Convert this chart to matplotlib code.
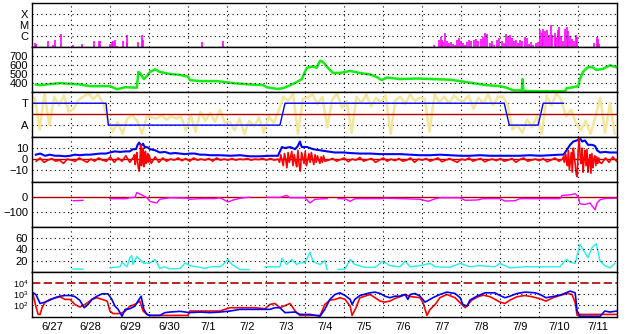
import matplotlib
matplotlib.use("Agg")
from matplotlib import pyplot as plt
from matplotlib.ticker import NullLocator
import numpy as np

plt.rcParams['font.family'] = ['Liberation Sans', 'DejaVu Sans']
plt.rcParams['font.size'] = 8
plt.rcParams['mathtext.default'] = 'regular'

# time axis: days since 6/27 00:00
days = ['6/27', '6/28', '6/29', '6/30', '7/1', '7/2', '7/3', '7/4', '7/5',
        '7/6', '7/7', '7/8', '7/9', '7/10', '7/11']

# X-ray flares (W/m2)
xray_t = [0.07, 0.09, 0.41, 0.54, 0.58, 0.74, 1.04, 1.27, 1.58, 1.70, 1.73, 1.99,
          2.04, 2.07, 2.12, 2.17, 2.33, 2.42, 2.44, 2.71, 2.81, 2.84, 4.34, 4.90,
          10.30, 10.44, 10.47, 10.50, 10.53, 10.58, 10.63, 10.68, 10.74, 10.79,
          10.84, 10.89, 10.94, 11.00, 11.04, 11.09, 11.14, 11.20, 11.25, 11.32,
          11.38, 11.43, 11.51, 11.56, 11.62, 11.67, 11.74, 11.79, 11.84, 11.91,
          11.97, 12.04, 12.09, 12.15, 12.20, 12.25, 12.30, 12.35, 12.40, 12.45,
          12.50, 12.56, 12.63, 12.69, 12.74, 12.79, 12.84, 12.92, 12.97, 13.02,
          13.06, 13.10, 13.15, 13.20, 13.25, 13.29, 13.33, 13.39, 13.43, 13.47,
          13.51, 13.56, 13.61, 13.66, 13.70, 13.74, 13.79, 13.84, 13.90, 13.93,
          13.97, 14.40, 14.47, 14.51, 14.54]
xray_f = [2.3e-7, 1.9e-7, 3.4e-7, 1.5e-7, 4.2e-7, 1.45e-6, 1.5e-7, 1.85e-7, 3.4e-7,
          3.4e-7, 3.4e-7, 1.85e-7, 2.8e-7, 3.4e-7, 4.2e-7, 1.3e-7, 3.4e-7, 1.2e-6,
          2.3e-7, 2.8e-7, 1.2e-6, 4.2e-7, 3.0e-7, 3.4e-7,
          1.5e-7, 5e-7, 7.8e-7, 4.2e-7, 3e-7, 2.1e-6, 3.4e-7, 2.5e-7, 3e-7, 2e-7,
          1.6e-7, 4.2e-7, 6.4e-7, 3.4e-7, 2.3e-7, 1.6e-7, 3e-7, 5e-7, 3.4e-7, 4.2e-7,
          6e-7, 3.4e-7, 5.5e-7, 7.8e-7, 2e-6, 1.6e-6, 2.5e-7, 3.4e-7, 1.8e-7, 5e-7,
          6.4e-7, 3.4e-7, 2.3e-7, 1.45e-6, 9.6e-7, 1.3e-6, 6.4e-7, 3.4e-7, 5e-7, 2.3e-7,
          4.2e-7, 3.4e-7, 7.8e-7, 6.4e-7, 2e-7, 2.8e-7, 1.8e-7, 2.3e-7, 2.8e-7, 3.3e-6,
          1.8e-6, 4.5e-6, 2.7e-6, 3.3e-6, 1.3e-6, 1.0e-5, 1.2e-6, 1.8e-6, 7.8e-7, 3.3e-6,
          6.1e-6, 9.6e-7, 3.4e-7, 4.5e-6, 6.1e-6, 2.7e-6, 9.6e-7, 5.2e-7, 3.4e-7, 1.2e-6,
          9e-7, 2.5e-7, 7.8e-7, 5.5e-7, 2e-7]

# solar wind speed (km/s)
speed_t = [0.09, 0.20, 0.45, 0.71, 0.97, 1.22, 1.48, 1.74, 1.99, 2.17, 2.38, 2.68,
           2.72, 2.76, 2.86, 2.94, 3.02, 3.15, 3.27, 3.53, 3.79, 3.99, 4.04, 4.30,
           4.56, 4.73, 5.15, 5.58, 5.92, 6.01, 6.27, 6.43, 6.56, 6.78, 6.91, 7.04,
           7.20, 7.29, 7.38, 7.45, 7.58, 7.71, 7.89, 8.15, 8.40, 8.66, 8.83, 8.96,
           9.09, 9.43, 9.86, 10.27, 10.71, 10.97, 11.30, 11.65, 11.99, 12.16, 12.33,
           12.55, 12.57, 12.59, 12.68, 13.02, 13.35, 13.66, 13.70, 13.87, 14.00,
           14.04, 14.12, 14.22, 14.34, 14.47, 14.63, 14.81, 14.99]
speed_v = [385, 378, 389, 400, 392, 385, 367, 367, 367, 333, 355, 350,
           522, 511, 444, 478, 522, 550, 522, 500, 489, 472, 433, 422,
           422, 422, 400, 385, 378, 355, 337, 344, 367, 411, 444, 567,
           583, 567, 644, 633, 567, 511, 511, 533, 511, 494, 467, 433,
           461, 444, 450, 444, 437, 422, 400, 378, 367, 350, 322,
           320, 444, 318, 314, 311, 311, 311, 344, 355, 367,
           444, 522, 567, 578, 544, 555, 594, 572]

# IMF sector (T=3, A=1) and angle scatter
sector_t = [0.0, 1.89, 1.95, 6.35, 6.48, 12.10, 12.23, 12.97, 13.10, 13.62]
sector_v = [3, 3, 1, 1, 3, 3, 1, 1, 3, 3]
phi_v = [3.5, 0.6, 3.9, 1.0, 3.6, 2.8, 3.7, 2.2,
         2.5, 3.3, 3.6, 3.9, 3.4, 3.8, 3.0, 1.5,
         0.4, 1.3, 0.2, 1.6, 1.9, 1.4, 0.2, 1.8,
         1.7, 1.6, 1.9, 1.5, 1.8, 1.6, 1.8, 0.5,
         1.9, 0.4, 2.2, 1.4, 2.1, 1.3, 2.4, 1.2,
         1.3, 0.5, 1.6, 0.2, 1.4, 0.9, 1.7, 0.3,
         1.8, 1.2, 2.3, 3.6, 3.2, 3.9, 0.2, 3.4,
         3.5, 3.8, 2.9, 3.6, 0.8, 3.3, 3.9, 2.6,
         3.2, 0.3, 3.6, 3.0, 3.8, 2.7, 3.5, 3.1,
         3.7, 0.2, 3.3, 3.6, 2.9, 3.8, 3.2, 3.5,
         3.4, 0.4, 3.8, 3.1, 3.6, 3.0, 3.7, 3.3,
         3.2, 3.7, 2.5, 3.5, 3.0, 3.8, 2.8, 3.6,
         3.6, 2.9, 0.6, 1.0, 0.3, 1.5, 0.8, 1.8,
         0.2, 3.7, 2.8, 3.9, 3.3, 1.8, 2.4, 1.2,
         0.5, 1.4, 0.2, 1.7, 3.5, 0.3, 3.0, 0.2]

# IMF Bt (nT)
bt_t = [0.09, 0.20, 0.33, 0.45, 0.58, 0.71, 0.84, 0.97, 1.09, 1.22, 1.35, 1.48, 1.61,
        1.74, 1.89, 1.99, 2.12, 2.25, 2.38, 2.50, 2.58, 2.66, 2.70, 2.74, 2.79, 2.84,
        2.89, 2.94, 3.02, 3.15, 3.27, 3.40, 3.53, 3.66, 3.79, 3.92, 4.04, 4.17, 4.30,
        4.43, 4.56, 4.81, 5.07, 5.33, 5.58, 5.84, 6.09, 6.30, 6.40, 6.48, 6.61, 6.74,
        6.81, 6.86, 6.91, 7.04, 7.20, 7.38, 7.56, 7.76, 7.97, 8.15, 8.40, 8.66, 8.92,
        9.17, 9.43, 9.69, 9.94, 10.20, 10.45, 10.71, 10.97, 11.22, 11.48, 11.74, 11.99,
        12.25, 12.50, 12.76, 13.02, 13.28, 13.53, 13.62, 13.70, 13.79, 13.87, 13.97,
        14.04, 14.10, 14.17, 14.25, 14.35, 14.43, 14.48, 14.56, 14.68, 14.81, 14.99]
bt_v = [4, 5, 3, 4, 3, 3, 2.5, 3, 4, 3.5, 4, 4, 4.5,
        5, 5, 6, 7, 6.5, 7, 7, 9, 9, 13, 15, 12, 14,
        10.5, 11, 9, 8, 6, 6.5, 5, 5.5, 5, 4.5, 5, 5, 4,
        4, 3.5, 3.5, 3, 3.5, 2.5, 2.5, 3, 3, 11, 10, 11, 9,
        12, 16, 11, 11, 9, 8, 7, 6, 6, 5.5, 5, 5, 4.5,
        4.5, 4.5, 4, 3.5, 3.5, 4, 3.5, 3, 3, 3.5, 3, 3,
        3, 3, 3.5, 3, 3.5, 4, 4, 8, 13, 16, 17,
        19, 16, 17, 13, 13, 12, 8, 6, 6.5, 6, 6]

# IMF Bz (nT), segments of (start, end, values)
bz_calm1 = [-2, 1, -3, -1, 0.5, -2, -1, -4, 0, -1, -2, 1, -1, -3, 0, -2, 1, -1,
            -2, 2, -3, 1, -2, 3, -3, 2]
bz_storm1 = [4, -5, 2, 6, -3, -8, -11, -2, 13, -6, 4, 10, -7, 1, 7, -4, 0, 5, -3, 3]
bz_calm2 = [-4, 2, -3, 1, -2, 0, -1, 1, -1.5, 0.5, -2, 1, -1, 0, -1, 0.5, -2, 1,
            -1, 0, -1, 0.5, -1, 0, -0.5, 0.5, -1, 0, -0.5, 0.5, -1, 0.5, -1, 0]
bz_storm2 = [-3, 4, -1, -6, 5, 0, -8, 6, -3, 2, 7, -6, 4, -2, -7, 8, -5, -11, 6,
             1, -4, 7, -6, -1, 5, -3, 6, 0, -5, 4, -3, 3, -1, -4, 2, -3, 3, -2]
bz_calm3 = [-1, 0.5, -2, -0.5, 1, -2.5, 0, -1, 1.5, -2, -0.5, 0.5, -3, -1, 1, -2,
            0, -1.5, 0.5, -2, -1, 1, -3, 0, -1, 0.5, -2, -0.5, 1, -2.5, -1, 0.5,
            -1.5, -3, 0, -1, 1, -2, -0.5, 0.5, -2.5, -1, 0, -1.5, 0.5, -2, -1, 0.5,
            -3, -0.5, 1, -2, -1, 0, -1.5, 0.5, -2.5, -1, 1, -2, 0]
bz_storm3 = [2, -3, 5, 0, -6, 8, -10, -2, 6, -12, 10, 3, -5, -14, -16, 8, 19, 2,
             -4, 10, -12, 0, 8, -6, 9, -12, -3, 4, -13, 5, -8, 0, 3, -6, 2, -4, 1, -3]
bz_calm4 = [-4, 1, -3, 2, -2]
bz_segments = [(0.1, 2.6, bz_calm1), (2.62, 3.0, bz_storm1), (3.05, 6.3, bz_calm2),
               (6.34, 7.5, bz_storm2), (7.6, 13.6, bz_calm3),
               (13.62, 14.55, bz_storm3), (14.6, 14.98, bz_calm4)]

# Dst-like index (nT), NaN = data gap
dst_t = [1.05, 1.30, 1.31, 1.99, 2.38, 2.50, 2.63, 2.68, 2.76, 2.84, 2.94, 3.02,
         3.19, 3.27, 3.53, 3.99, 4.04, 4.30, 4.68, 4.81, 5.02, 5.15, 5.33, 5.58,
         5.60, 6.02, 6.35, 6.52, 6.61, 6.99, 7.12, 7.25, 7.50, 7.56, 7.57, 7.84,
         8.02, 8.15, 8.27, 8.92, 9.04, 9.43, 9.94, 10.15, 10.33, 10.45, 10.97,
         11.10, 11.40, 11.56, 11.99, 12.12, 12.38, 12.50, 13.53, 13.58, 13.79,
         13.92, 14.00, 14.04, 14.17, 14.30, 14.43, 14.48, 14.56, 14.68, 14.99]
dst_v = [-25, -22, np.nan, -11, -12, -5, -2, 30, 20, 9, -5, -30,
         -40, -15, -5, -8, -15, -11, -11, -5, -33, -20, -8, -1,
         np.nan, -2, -3, 11, -5, -5, -40, -15, -11, -11, np.nan, -11,
         -12, -29, -11, -11, -8, -11, -15, -29, -12, -5, -5,
         -22, -20, -11, -11, -27, -25, -11, -11, 10, 15,
         22, 0, -45, -50, -40, -85, -40, -18, -10, -8]

# proton density (p/cc)
dens_t = [1.04, 1.30, 1.31, 1.99, 2.25, 2.30, 2.43, 2.50, 2.55, 2.58, 2.68, 2.76,
          2.86, 3.02, 3.15, 3.27, 3.40, 3.53, 3.79, 3.92, 4.04, 4.30, 4.43, 4.56,
          4.81, 4.86, 5.02, 5.12, 5.33, 5.56, 5.57, 5.97, 6.35, 6.40, 6.52, 6.65,
          6.78, 6.86, 6.99, 7.12, 7.20, 7.38, 7.50, 7.56, 7.57, 7.84, 8.02, 8.15,
          8.27, 8.53, 8.79, 8.99, 9.17, 9.43, 9.56, 9.69, 9.94, 10.20, 10.33,
          10.71, 10.97, 11.22, 11.48, 11.86, 11.99, 12.25, 12.63, 13.53, 13.66,
          13.71, 13.79, 13.92, 14.04, 14.17, 14.25, 14.35, 14.46, 14.56, 14.68,
          14.81, 14.94]
dens_v = [5, 5, np.nan, 7, 9, 17, 9, 25, 29, 13, 27, 22,
          15, 16, 22, 6, 9, 5, 6, 16, 11, 8, 6, 9,
          9, 11, 22, 13, 4, 4, np.nan, 9, 9, 24, 13, 22,
          13, 16, 16, 35, 18, 13, 20, 4, np.nan, 4, 5, 22,
          13, 8, 8, 19, 11, 9, 19, 9, 11, 15, 9,
          8, 15, 9, 11, 9, 15, 7, 9, 9, 20,
          22, 17, 15, 49, 34, 25, 43, 50, 19, 11,
          7, 15]

# particle fluxes (log panel)
flux_t_blue = [0.02, 0.09, 0.20, 0.33, 0.45, 0.58, 0.71, 0.84, 0.97, 1.09, 1.22, 1.33,
               1.43, 1.53, 1.66, 1.79, 1.94, 2.04, 2.12, 2.20, 2.30, 2.38, 2.50, 2.63,
               2.79, 2.86, 2.94, 3.02, 3.27, 3.40, 3.53, 3.79, 4.04, 4.30, 4.56, 4.81,
               5.07, 5.33, 5.71, 6.09, 6.22, 6.35, 6.48, 6.74, 6.86, 7.12, 7.38, 7.50,
               7.63, 7.76, 7.89, 8.02, 8.15, 8.20, 8.27, 8.40, 8.66, 8.79, 8.92, 9.04,
               9.17, 9.30, 9.43, 9.56, 9.63, 9.69, 9.81, 9.94, 10.07, 10.15, 10.27,
               10.45, 10.63, 10.84, 10.97, 11.04, 11.15, 11.22, 11.40, 11.61, 11.86,
               11.99, 12.12, 12.25, 12.43, 12.63, 12.89, 13.02, 13.17, 13.40, 13.58,
               13.79, 13.92, 13.97, 14.04, 14.30, 14.56, 14.68, 14.81, 14.99]
flux_v_blue = [1349, 955, 151, 200, 302, 490, 676, 776, 776, 631, 282, 63,
               123, 347, 676, 1096, 1096, 347, 87, 45, 11, 45, 51, 87,
               676, 45, 16, 13, 13, 23, 26, 30, 23, 26, 23, 26,
               32, 45, 45, 45, 63, 63, 23, 26, 16, 16, 11, 45,
               347, 955, 1349, 776, 347, 123, 347, 776, 1349, 1549, 1175, 676,
               490, 676, 676, 955, 347, 955, 1175, 676, 200, 282, 490,
               955, 1549, 1175, 490, 123, 87, 302, 676, 1349, 1349,
               776, 490, 676, 1175, 1549, 1349, 955, 490, 676, 955,
               1905, 1349, 32, 11, 11, 11, 32, 26, 32]
flux_t_red = [0.02, 0.09, 0.15, 0.20, 0.25, 0.33, 0.45, 0.71, 0.84, 0.97, 1.09, 1.22,
              1.35, 1.53, 1.66, 1.79, 1.92, 1.99, 2.07, 2.25, 2.38, 2.50, 2.63, 2.76,
              2.84, 2.94, 3.02, 3.53, 3.99, 4.04, 4.81, 5.07, 5.71, 5.97, 6.09, 6.22,
              6.35, 6.61, 6.74, 6.86, 7.38, 7.43, 7.50, 7.63, 7.76, 7.89, 8.02, 8.15,
              8.20, 8.30, 8.40, 8.53, 8.66, 8.79, 8.92, 9.04, 9.17, 9.30, 9.43, 9.56,
              9.69, 9.94, 10.02, 10.12, 10.20, 10.33, 10.45, 10.63, 10.84, 10.97,
              11.10, 11.17, 11.27, 11.43, 11.56, 11.74, 11.99, 12.12, 12.25, 12.43,
              12.63, 12.81, 13.02, 13.17, 13.35, 13.53, 13.71, 13.84, 13.92, 13.97,
              14.04, 14.30, 14.56, 14.81, 14.99]
flux_v_red = [955, 87, 16, 16, 63, 200, 347, 603, 347, 347, 123, 72,
              123, 347, 490, 347, 245, 32, 19, 19, 30, 87, 123, 245,
              32, 16, 13, 13, 13, 32, 32, 63, 63, 51, 123, 151,
              63, 151, 32, 13, 13, 32, 123, 302, 347, 490, 347, 87,
              13, 63, 490, 676, 955, 490, 245, 200, 245, 427, 603, 955,
              631, 490, 174, 13, 45, 123, 490, 955, 490, 174,
              63, 123, 302, 603, 832, 603, 200, 151, 302, 603,
              776, 603, 398, 245, 490, 776, 1175, 955, 174, 13,
              16, 16, 16, 16, 16]

GREEN = '#11ee11'
MAGENTA = '#ff00ff'
CYAN = '#22eeee'
YELLOW = '#f5e69a'
DKRED = '#b00000'
DOT = (0, (1, 3))

fig, axes = plt.subplots(7, 1, sharex=True, figsize=(6.28, 3.34), dpi=100,
                         gridspec_kw={'hspace': 0})
fig.subplots_adjust(left=32.3 / 628, right=617.3 / 628,
                    top=1 - 2.5 / 334, bottom=1 - 316.7 / 334)

ax_x, ax_v, ax_s, ax_b, ax_d, ax_n, ax_p = axes

# X-ray
ax_x.set_yscale('log')
ax_x.set_ylim(1e-7, 1e-3)
ax_x.vlines(xray_t, 1e-7, xray_f, color=MAGENTA, lw=1.2)
ax_x.set_yticks([1e-6, 1e-5, 1e-4], ['C', 'M', 'X'])
for lv in [1e-6, 1e-5, 1e-4]:
    ax_x.axhline(lv, color='k', lw=0.8, ls=DOT)

# speed
ax_v.plot(speed_t, speed_v, color=GREEN, lw=1.8)
ax_v.set_ylim(300, 790)
ax_v.set_yticks([400, 500, 600, 700])
for lv in [400, 500, 600, 700]:
    ax_v.axhline(lv, color='k', lw=0.8, ls=DOT)

# sector
phi_t = np.arange(len(phi_v)) * 0.125 + 0.0625
ax_s.plot(phi_t, phi_v, color=YELLOW, lw=1.8)
ax_s.axhline(2, color=DKRED, lw=1)
ax_s.plot(sector_t, sector_v, color='#0000ff', lw=1)
ax_s.set_ylim(-0.1, 4.0)
ax_s.set_yticks([3, 1], ['T', 'A'])
for lv in [3, 1]:
    ax_s.axhline(lv, color='k', lw=0.8, ls=DOT, zorder=0)

# Bt / Bz
bz_t = np.concatenate([np.linspace(a, b, len(v)) for a, b, v in bz_segments])
bz_v = np.concatenate([v for a, b, v in bz_segments])
ax_b.axhline(0, color=DKRED, lw=1)
ax_b.plot(bt_t, bt_v, color='#0000ff', lw=1.5)
ax_b.plot(bz_t, bz_v, color='#ff0000', lw=1.2)
ax_b.set_ylim(-21, 20)
ax_b.set_yticks([10, 0, -10])
for lv in [10, -10]:
    ax_b.axhline(lv, color='k', lw=0.8, ls=DOT)

# Dst
ax_d.axhline(0, color=DKRED, lw=1)
ax_d.plot(dst_t, dst_v, color=MAGENTA, lw=1)
ax_d.set_ylim(-200, 100)
ax_d.set_yticks([0, -100])
ax_d.axhline(-100, color='k', lw=0.8, ls=DOT)

# density
ax_n.plot(dens_t, dens_v, color=CYAN, lw=1)
ax_n.set_ylim(0, 80)
ax_n.set_yticks([60, 40, 20])
for lv in [60, 40, 20]:
    ax_n.axhline(lv, color='k', lw=0.8, ls=DOT)

# particle flux
ax_p.set_yscale('log')
ax_p.set_ylim(1e1, 1e5)
ax_p.plot(flux_t_red, flux_v_red, color='#ff0000', lw=1.2)
ax_p.plot(flux_t_blue, flux_v_blue, color='#0000ff', lw=1.2)
ax_p.axhline(1e4, color=DKRED, lw=1.2, ls=(0, (5, 2)))
ax_p.set_yticks([1e4, 1e3, 1e2], [r'$10^4$', r'$10^3$', r'$10^2$'])
for lv in [1e3, 1e2]:
    ax_p.axhline(lv, color='k', lw=0.8, ls=DOT)

for ax in axes:
    ax.set_xlim(0, 15)
    ax.yaxis.set_minor_locator(NullLocator())
    ax.tick_params(which='both', length=0, pad=3, labelsize=8)
    for d in range(1, 15):
        ax.axvline(d, color='k', lw=0.8, ls=DOT, zorder=0)
    for sp in ax.spines.values():
        sp.set_linewidth(1.0)

ax_p.tick_params(axis='y', labelsize=6.5)
ax_p.set_xticks(np.arange(1, 15), [''] * 14)
ax_p.set_xticks(np.arange(0.5, 15, 1), days, minor=True)
ax_p.tick_params(axis='x', which='minor', pad=4)

plt.savefig('out.png', dpi=100)
